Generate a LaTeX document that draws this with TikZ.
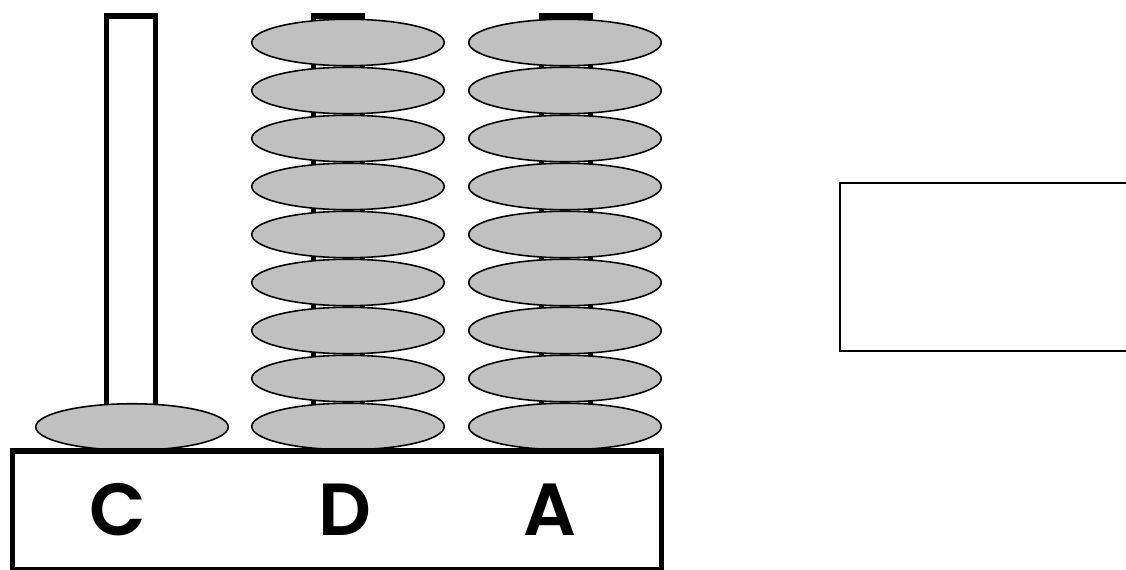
\documentclass[tikz,border=0pt]{standalone}
\usepackage{fontspec}
\newfontfamily\pegfont{Poppins}[UprightFont=* SemiBold]
\usetikzlibrary{shapes,positioning}
\definecolor{diskgray}{HTML}{C0C0C0}

\begin{document}
\begin{tikzpicture}[x=0.02cm,y=-0.02cm]
\tikzstyle{rod}=[draw, rectangle, line width=2.9pt, fill=white, inner sep=0pt, minimum width=0.97cm];
\tikzstyle{disk}=[draw, ellipse, fill=diskgray, line width=0.9pt, inner sep=0pt, minimum width=3.85cm, minimum height=0.93cm];
\tikzstyle{peg}=[font=\pegfont\fontsize{42}{42}\selectfont, inner sep=0pt];
\useasboundingbox (0,0) rectangle (1126,570);
\clip (0,0) rectangle (1126,570);
\begin{scope}
  \node (rodC) at (131,218) [rod, minimum height=8.08cm]{};
  \node (rodD) at (338,228) [rod, minimum height=8.48cm]{};
  \node (rodA) at (566,228) [rod, minimum height=8.48cm]{};

  \node (diskC) at (132,427) [disk]{};
  \foreach \i in {0,...,8} {
    \node (diskD\i) at (348,{42.5+48*\i}) [disk]{};
    \node (diskA\i) at (565,{42.5+48*\i}) [disk]{};
  }

  \node (base) at (337,510.5) [draw, rectangle, line width=2.9pt, minimum width=13cm, minimum height=2.38cm]{};
  \node (labelC) at (118,510) [peg]{C};
  \node (labelD) at (345,510) [peg]{D};
  \node (labelA) at (550,510) [peg]{A};

  \node (answer) at (990,267) [draw, rectangle, line width=1.1pt, minimum width=6cm, minimum height=3.36cm]{};
\end{scope}
\end{tikzpicture}
\end{document}
